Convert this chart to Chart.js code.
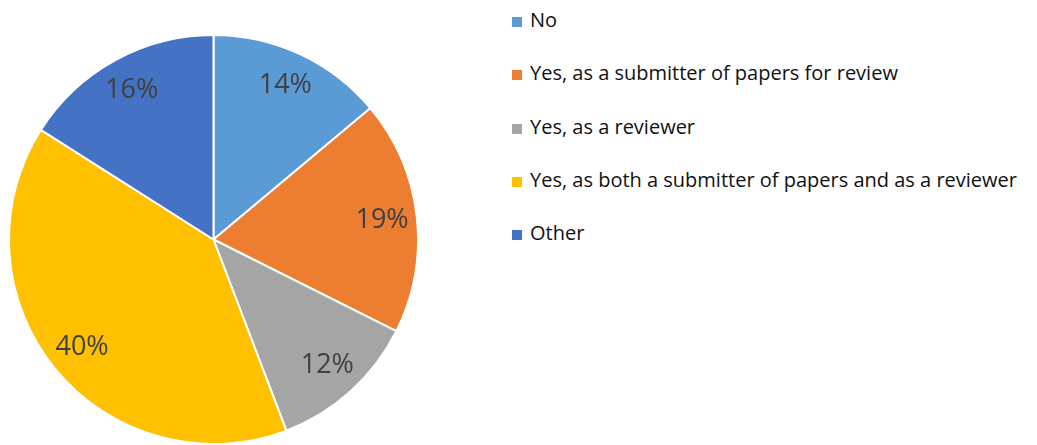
<!DOCTYPE html>
<html>
<head>
<meta charset="utf-8">
<script src="https://cdn.jsdelivr.net/npm/chart.js@4"></script>
<style>
  body { margin: 0; background: #fff; width: 1037px; height: 445px; overflow: hidden; position: relative; }
  #pieBox { position: absolute; left: 8px; top: 34px; width: 411px; height: 411px; }
  #legend { position: absolute; left: 512px; top: 0; font-family: "Open Sans", "Liberation Sans", sans-serif; font-size: 20px; color: #111; }
  .item { position: absolute; white-space: nowrap; height: 22px; line-height: 22px; }
  .sw { display: inline-block; width: 10px; height: 10px; margin-right: 8px; vertical-align: 0px; }
</style>
</head>
<body>
<div id="pieBox"><canvas id="myPie"></canvas></div>
<div id="legend"></div>
<script>
// answers (share of respondents, %)
var categories = ['No', 'Yes, as a submitter of papers for review', 'Yes, as a reviewer',
  'Yes, as both a submitter of papers and as a reviewer', 'Other'];
var values = [13.9, 18.5, 11.8, 39.8, 16.0];
var colors = ['#5B9BD5', '#ED7D31', '#A5A5A5', '#FFC000', '#4472C4'];

// legend on the right, one row every 53px
var legend = document.getElementById('legend');
categories.forEach(function (name, i) {
  var row = document.createElement('div');
  row.className = 'item';
  row.style.top = (9 + i * 53.3) + 'px';
  row.innerHTML = '<span class="sw" style="background:' + colors[i] + '"></span>' + name;
  legend.appendChild(row);
});

// percent labels inside each slice
var sliceLabels = {
  id: 'sliceLabels',
  afterDatasetsDraw: function (chart) {
    var ctx = chart.ctx;
    var total = values.reduce(function (a, b) { return a + b; }, 0);
    ctx.save();
    ctx.font = '27px "Open Sans", "Liberation Sans", sans-serif';
    ctx.fillStyle = '#404040';
    ctx.textAlign = 'center';
    ctx.textBaseline = 'middle';
    chart.getDatasetMeta(0).data.forEach(function (arc, i) {
      var mid = (arc.startAngle + arc.endAngle) / 2;
      var r = arc.outerRadius * 0.83;
      var x = arc.x + Math.cos(mid) * r;
      var y = arc.y + Math.sin(mid) * r;
      ctx.fillText(Math.round(values[i] / total * 100) + '%', x, y);
    });
    ctx.restore();
  }
};

var ctx = document.getElementById('myPie').getContext('2d');
var myPie = new Chart(ctx, {
  type: 'pie',
  data: {
    labels: categories,
    datasets: [{
      data: values,
      backgroundColor: colors,
      borderColor: '#ffffff',
      borderWidth: 2
    }]
  },
  options: {
    responsive: true,
    maintainAspectRatio: false,
    animation: false,
    layout: { padding: 0 },
    plugins: {
      legend: { display: false },
      tooltip: { enabled: false }
    }
  },
  plugins: [sliceLabels]
});
</script>
</body>
</html>
